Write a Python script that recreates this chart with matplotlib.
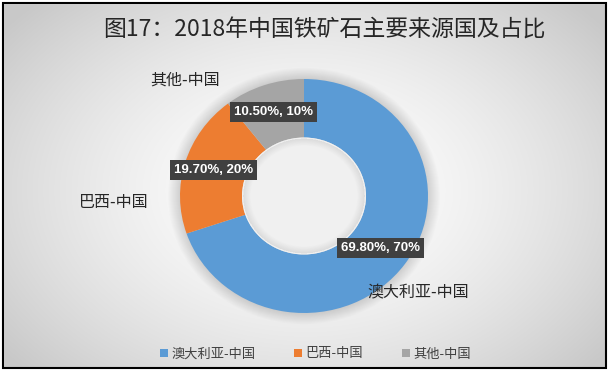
import matplotlib.pyplot as plt
import numpy as np
from matplotlib.patches import Rectangle, Circle, Wedge

plt.rcParams['font.family'] = ['Noto Sans CJK SC', 'DejaVu Sans']

# 数据
categories = ['澳大利亚-中国', '巴西-中国', '其他-中国']
shares = [69.8, 19.7, 10.5]
rounded = [70, 20, 10]
colors = ['#5B9BD5', '#ED7D31', '#A5A5A5']

W, H = 610, 374
fig = plt.figure(figsize=(W / 100, H / 100), dpi=100)

# 背景渐变
bg = fig.add_axes([0, 0, 1, 1])
yy, xx = np.mgrid[0:H, 0:W]
d = np.sqrt(((xx - 305) / 330.0) ** 2 + ((yy - 190) / 230.0) ** 2)
shade = 1.0 - 0.17 * np.clip(d, 0, 1.15) ** 1.6
img = np.dstack([shade, shade, shade])
bg.imshow(img, extent=[0, W, H, 0], aspect='auto')
bg.set_xlim(0, W)
bg.set_ylim(H, 0)
bg.axis('off')
bg.add_patch(Rectangle((0, 0), W, 3, color='white'))
bg.add_patch(Rectangle((606, 0), 10, H, color='white'))
bg.add_patch(Rectangle((0, 368), W, 10, color='white'))
bg.add_patch(Rectangle((0, 0), 3, H, color='white'))
bg.add_patch(Rectangle((3, 3), 603, 365, fill=False, ec='black', lw=1.5))

# 标题
fig.text(324 / W, 1 - 30 / H, '图17：2018年中国铁矿石主要来源国及占比',
         ha='center', va='center', fontsize=16.5, color='#262626')

# 环形图（略呈椭圆）
cx, cy, rx, ry = 304, 196, 124, 117
m = 1.1
ax = fig.add_axes([(cx - m * rx) / W, (H - cy - m * ry) / H,
                   2 * m * rx / W, 2 * m * ry / H])

# 外阴影
for k in range(12):
    ax.add_patch(Circle((0, 0), 1.0 + 0.008 * (12 - k), color='black',
                        alpha=0.012, lw=0, zorder=0))

wedges, _ = ax.pie(shares, colors=colors, startangle=90, counterclock=False,
                   radius=1.0, wedgeprops=dict(width=0.5, edgecolor='none'))

# 中心孔
ax.add_patch(Circle((0, 0), 0.5, color='#f0f0f0', lw=0, zorder=2))
for k in range(10):
    ax.add_patch(Wedge((0, 0), 0.49, 0, 360, width=0.006 * (k + 1),
                       color='black', alpha=0.007, lw=0, zorder=3))

ax.set_xlim(-m, m)
ax.set_ylim(-m, m)
ax.set_aspect('auto')
ax.axis('off')

# 数据标签
for w, s, p in zip(wedges, shares, rounded):
    ang = np.deg2rad((w.theta1 + w.theta2) / 2)
    rr = 0.76
    ax.text(rr * np.cos(ang), rr * np.sin(ang), f'{s:.2f}%, {p}%',
            ha='center', va='center', fontsize=9.5, fontweight='bold',
            color='white', family='Liberation Sans', zorder=5,
            bbox=dict(boxstyle='square,pad=0.3', fc='#404040', ec='none'))

# 类别标签
cat_pos = [(418, 293), (114, 203), (185, 80)]
for name, (px, py) in zip(categories, cat_pos):
    fig.text(px / W, 1 - py / H, name, ha='center', va='center',
             fontsize=11.5, color='#262626')

# 图例
fig.legend(wedges, categories, loc='center', bbox_to_anchor=(0.517, 1 - 354 / H),
           ncol=3, frameon=False, fontsize=9.5, handlelength=0.6,
           handleheight=0.6, handletextpad=0.3, columnspacing=2.9,
           labelcolor='#404040')

fig.savefig('out.png', dpi=100)
